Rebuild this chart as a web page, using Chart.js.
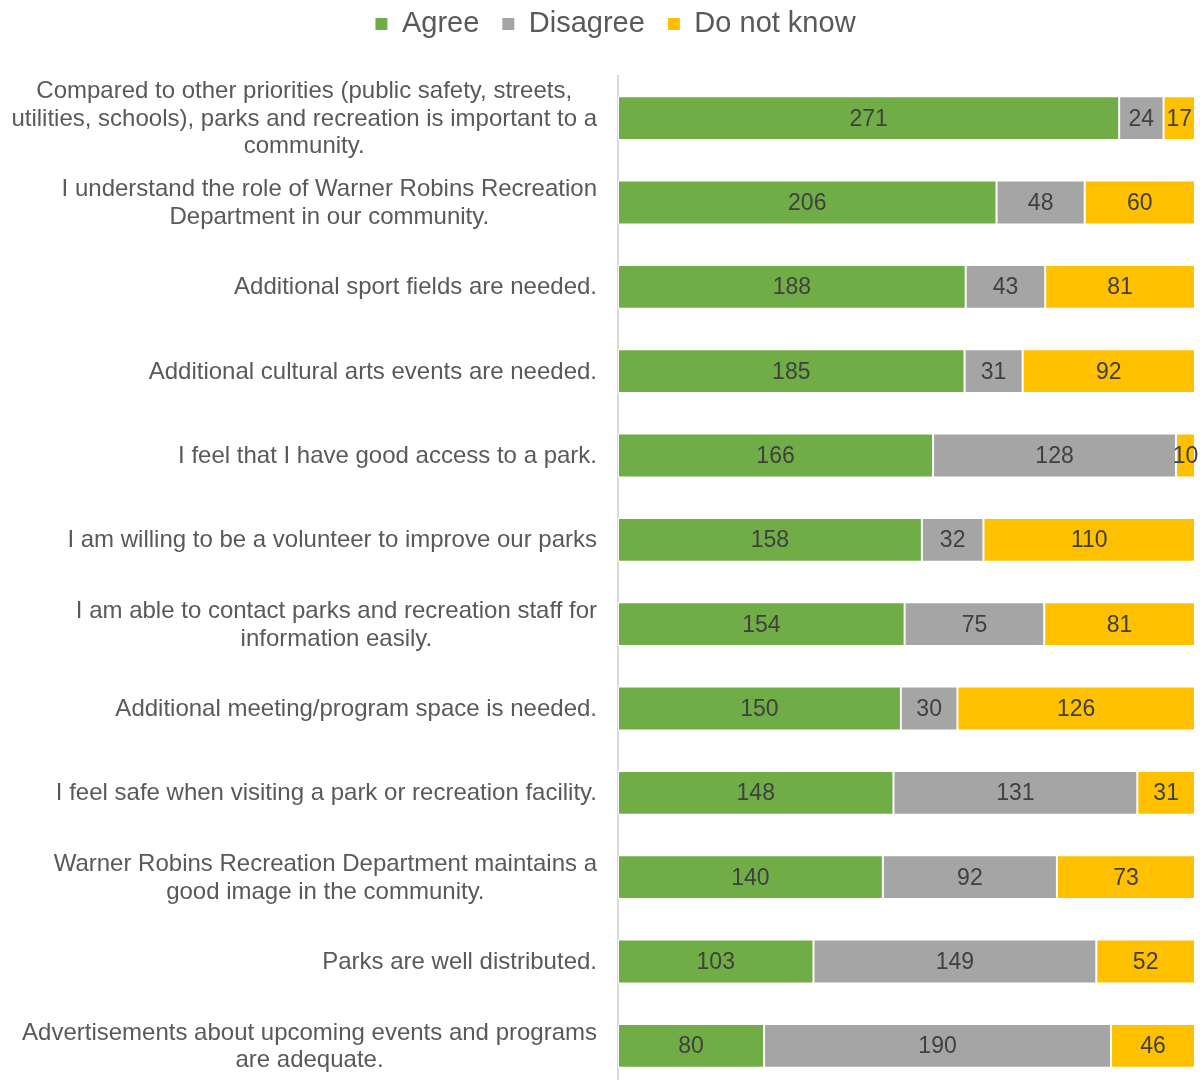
<!DOCTYPE html>
<html>
<head>
<meta charset="utf-8">
<script src="https://cdn.jsdelivr.net/npm/chart.js@4/dist/chart.umd.min.js"></script>
<style>
html,body{margin:0;padding:0;background:#fff;overflow:hidden;width:1200px;height:1080px}
#clip{width:1200px;height:1080px;overflow:hidden;position:relative}
#wrap{width:1200px;height:1090px;position:absolute;left:0;top:0}
</style>
</head>
<body>
<div id="clip"><div id="wrap"><canvas id="c"></canvas></div></div>
<script>
const categories = [
  ["Compared to other priorities (public safety, streets,", "utilities, schools), parks and recreation is important to a", "community."],
  ["I understand the role of Warner Robins Recreation", "Department in our community."],
  ["Additional sport fields are needed."],
  ["Additional cultural arts events are needed."],
  ["I feel that I have good access to a park."],
  ["I am willing to be a volunteer to improve our parks"],
  ["I am able to contact parks and recreation staff for", "information easily."],
  ["Additional meeting/program space is needed."],
  ["I feel safe when visiting a park or recreation facility."],
  ["Warner Robins Recreation Department maintains a", "good image in the community."],
  ["Parks are well distributed."],
  ["Advertisements about upcoming events and programs", "are adequate."]
];
const seriesNames = ["Agree", "Disagree", "Do not know"];
const agree    = [271, 206, 188, 185, 166, 158, 154, 150, 148, 140, 103, 80];
const disagree = [24, 48, 43, 31, 128, 32, 75, 30, 131, 92, 149, 190];
const dontKnow = [17, 60, 81, 92, 10, 110, 81, 126, 31, 73, 52, 46];
const seriesColors = ["#70AD47", "#A5A5A5", "#FFC000"];

const rawSeries = [agree, disagree, dontKnow];
const totals = agree.map((v, i) => v + disagree[i] + dontKnow[i]);
const share = arr => arr.map((v, i) => v / totals[i] * 100);

Chart.defaults.font.family = '"Liberation Sans", Arial, Helvetica, sans-serif';

const labelPlugin = {
  id: 'customLabels',
  afterDraw(chart) {
    const ctx = chart.ctx;
    const yScale = chart.scales.y;
    ctx.save();
    // category labels: block right-aligned, lines centered within the block
    ctx.font = '24px "Liberation Sans", Arial, Helvetica, sans-serif';
    ctx.fillStyle = '#595959';
    ctx.textAlign = 'center';
    ctx.textBaseline = 'middle';
    const rightX = 597, lineH = 27.5;
    categories.forEach((lines, i) => {
      const cy = yScale.getPixelForValue(i) + 1;
      const w = Math.max(...lines.map(l => ctx.measureText(l).width));
      const cx = rightX - w / 2;
      lines.forEach((l, k) => ctx.fillText(l, cx, cy + (k - (lines.length - 1) / 2) * lineH));
    });
    // value labels
    ctx.font = '23px "Liberation Sans", Arial, Helvetica, sans-serif';
    ctx.fillStyle = '#404040';
    chart.data.datasets.forEach((ds, di) => {
      const meta = chart.getDatasetMeta(di);
      meta.data.forEach((el, i) => {
        const cx = (el.x + el.base) / 2;
        ctx.fillText(String(rawSeries[di][i]), cx, el.y + 1);
      });
    });
    ctx.restore();
  }
};

new Chart(document.getElementById('c'), {
  type: 'bar',
  data: {
    labels: categories.map(l => l.join(' ')),
    datasets: seriesNames.map((name, i) => ({
      label: name,
      data: share(rawSeries[i]),
      backgroundColor: seriesColors[i],
      borderColor: '#ffffff',
      borderWidth: 1,
      borderSkipped: false,
      barPercentage: 0.52,
      categoryPercentage: 1.0
    }))
  },
  options: {
    indexAxis: 'y',
    responsive: true,
    maintainAspectRatio: false,
    animation: false,
    layout: { padding: { top: -13.5, left: 36, right: 5, bottom: 2 } },
    plugins: {
      legend: {
        position: 'top',
        align: 'center',
        labels: {
          font: { size: 29 },
          color: '#595959',
          boxWidth: 12,
          boxHeight: 12,
          padding: 23,
          generateLabels: (chart) => Chart.defaults.plugins.legend.labels.generateLabels(chart).map(l => ({ ...l, lineWidth: 0 }))
        }
      },
      tooltip: {
        callbacks: {
          label: (c) => c.dataset.label + ': ' + rawSeries[c.datasetIndex][c.dataIndex]
        }
      }
    },
    scales: {
      x: {
        type: 'linear',
        position: 'top',
        stacked: true,
        min: 0,
        max: 100,
        ticks: { display: false },
        grid: { display: false },
        border: { display: false },
        afterFit: (s) => { s.height = 27.5; }
      },
      y: {
        stacked: true,
        ticks: { display: false },
        grid: { display: false },
        border: { display: true, color: '#d9d9d9', width: 2 },
        afterFit: (s) => { s.width = 582; }
      }
    }
  },
  plugins: [labelPlugin]
});
</script>
</body>
</html>
